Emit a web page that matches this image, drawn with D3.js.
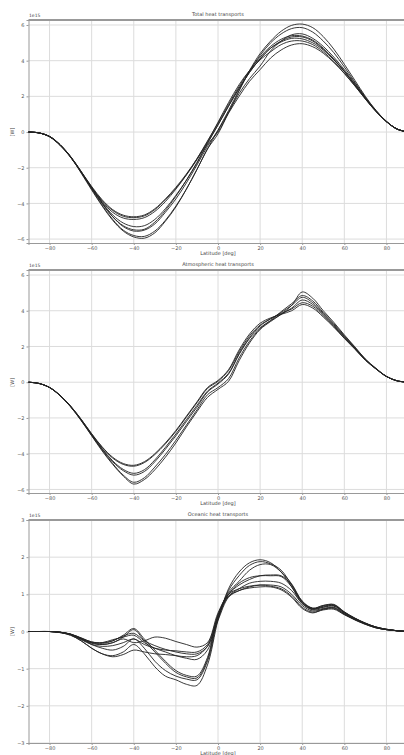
<!DOCTYPE html>
<html>
<head>
<meta charset="utf-8">
<script src="https://cdn.jsdelivr.net/npm/d3@7"></script>
<style>
  body { margin: 0; background: #fff; }
  text { font-family: "DejaVu Sans", sans-serif; fill: #444; }
</style>
</head>
<body>
<div id="chart"></div>
<script>
// latitudes every 5 degrees, south pole to north pole
var lats = [-90,-85,-80,-75,-70,-65,-60,-55,-50,-45,-40,-35,-30,-25,-20,-15,-10,-5,0,5,10,15,20,25,30,35,40,45,50,55,60,65,70,75,80,85,90];

var xTicks = [-80,-60,-40,-20,0,20,40,60,80];
var yTicksBig = [-6,-4,-2,0,2,4,6];
var yTicksSmall = [-3,-2,-1,0,1,2,3];
var titles = ["Total heat transports", "Atmospheric heat transports", "Oceanic heat transports"];

// total heat transport, one row per model run [1e15 W]
var totalHeat = [
  [0,-0.05,-0.25,-0.72,-1.4,-2.3,-3.25,-4.15,-4.95,-5.55,-5.88,-5.95,-5.65,-5.0,-4.2,-3.2,-2.1,-0.95, -0.1,1.1,2.3,3.45,4.4,5.1,5.65,5.98,6.05,5.85,5.35,4.65,3.8,2.9,2.0,1.22,0.6,0.17,0],
  [0,-0.05,-0.24,-0.7,-1.38,-2.25,-3.2,-4.1,-4.9,-5.5,-5.8,-5.85,-5.55,-4.95,-4.15,-3.2,-2.1,-0.95, 0.1,1.2,2.35,3.4,4.3,5.0,5.5,5.8,5.85,5.6,5.1,4.45,3.65,2.8,1.95,1.2,0.6,0.17,0],
  [0,-0.05,-0.25,-0.72,-1.38,-2.22,-3.15,-4.0,-4.75,-5.3,-5.55,-5.5,-5.15,-4.5,-3.75,-2.85,-1.85,-0.8, 0.1,1.1,2.15,3.0,3.7,4.55,5.1,5.45,5.5,5.25,4.8,4.2,3.5,2.75,1.92,1.2,0.6,0.17,0],
  [0,-0.05,-0.26,-0.72,-1.4,-2.25,-3.15,-4.0,-4.75,-5.25,-5.48,-5.45,-5.05,-4.4,-3.6,-2.7,-1.7,-0.65, 0.4,1.45,2.45,3.35,4.1,4.7,5.1,5.33,5.33,5.1,4.65,4.05,3.4,2.65,1.88,1.18,0.58,0.17,0],
  [0,-0.05,-0.27,-0.75,-1.42,-2.25,-3.1,-3.85,-4.4,-4.72,-4.8,-4.7,-4.35,-3.8,-3.15,-2.4,-1.55,-0.6, 0.4,1.45,2.45,3.35,4.1,4.7,5.05,5.25,5.22,5.0,4.6,4.05,3.4,2.65,1.88,1.18,0.58,0.17,0],
  [0,-0.05,-0.26,-0.74,-1.4,-2.22,-3.05,-3.8,-4.35,-4.66,-4.75,-4.65,-4.3,-3.75,-3.1,-2.35,-1.5,-0.55, 0.55,1.65,2.65,3.45,4.05,4.5,4.9,5.1,5.1,4.9,4.5,3.95,3.3,2.6,1.85,1.15,0.58,0.17,0],
  [0,-0.05,-0.25,-0.71,-1.37,-2.2,-3.1,-3.95,-4.65,-5.1,-5.3,-5.25,-4.9,-4.3,-3.55,-2.7,-1.75,-0.7, 0.0,1.05,2.0,2.85,3.5,4.15,4.6,4.88,4.95,4.78,4.42,3.9,3.28,2.58,1.85,1.15,0.58,0.17,0],
  [0,-0.05,-0.25,-0.72,-1.4,-2.24,-3.12,-3.9,-4.5,-4.82,-4.9,-4.8,-4.45,-3.9,-3.2,-2.4,-1.5,-0.5, 0.5,1.55,2.55,3.45,4.2,4.8,5.2,5.4,5.38,5.15,4.7,4.1,3.42,2.68,1.9,1.18,0.58,0.17,0]
];

// atmospheric heat transport [1e15 W]
var atmosHeat = [
  [0,-0.07,-0.3,-0.76,-1.38,-2.15,-3.0,-3.85,-4.6,-5.25,-5.7,-5.45,-4.9,-4.2,-3.4,-2.5,-1.65,-0.85, -0.4,0.05,1.2,2.2,2.95,3.4,3.8,4.3,5.05,4.7,4.0,3.35,2.65,1.98,1.3,0.78,0.33,0.08,0],
  [0,-0.07,-0.3,-0.75,-1.37,-2.13,-2.98,-3.8,-4.55,-5.2,-5.6,-5.35,-4.75,-4.05,-3.25,-2.4,-1.55,-0.7, -0.3,0.2,1.35,2.3,3.0,3.45,3.95,4.4,4.85,4.55,3.9,3.28,2.6,1.95,1.28,0.77,0.33,0.08,0],
  [0,-0.07,-0.3,-0.75,-1.36,-2.12,-2.95,-3.75,-4.45,-4.95,-5.2,-5.0,-4.45,-3.75,-3.0,-2.2,-1.4,-0.55, -0.1,0.45,1.6,2.5,3.15,3.55,3.9,4.3,4.75,4.45,3.85,3.22,2.56,1.92,1.26,0.76,0.32,0.08,0],
  [0,-0.07,-0.3,-0.74,-1.35,-2.1,-2.93,-3.72,-4.4,-4.88,-5.1,-4.9,-4.35,-3.65,-2.9,-2.1,-1.3,-0.5, -0.05,0.5,1.55,2.45,3.05,3.45,3.8,4.15,4.6,4.35,3.78,3.17,2.52,1.9,1.25,0.75,0.32,0.08,0],
  [0,-0.07,-0.29,-0.73,-1.34,-2.08,-2.9,-3.65,-4.25,-4.6,-4.7,-4.5,-4.05,-3.45,-2.75,-1.95,-1.15,-0.35, 0.05,0.65,1.7,2.6,3.2,3.55,3.85,4.1,4.45,4.25,3.72,3.12,2.48,1.87,1.24,0.75,0.32,0.08,0],
  [0,-0.07,-0.29,-0.73,-1.33,-2.07,-2.88,-3.62,-4.2,-4.55,-4.65,-4.45,-4.0,-3.4,-2.7,-1.9,-1.1,-0.3, 0.1,0.7,1.8,2.7,3.3,3.6,3.8,4.0,4.35,4.15,3.65,3.08,2.45,1.85,1.23,0.74,0.32,0.08,0]
];

// oceanic heat transport [1e15 W]
var oceanHeat = [
  [0,0,0,-0.03,-0.1,-0.25,-0.45,-0.6,-0.65,-0.55,-0.35,-0.6,-0.95,-1.2,-1.3,-1.42,-1.45,-0.9, 0.3,1.15,1.6,1.85,1.93,1.85,1.6,1.2,0.75,0.6,0.68,0.7,0.5,0.35,0.22,0.12,0.06,0.02,0],
  [0,0,0,-0.02,-0.08,-0.2,-0.35,-0.45,-0.5,-0.4,-0.2,-0.45,-0.8,-1.05,-1.2,-1.28,-1.3,-0.8, 0.35,1.1,1.5,1.78,1.88,1.82,1.65,1.25,0.8,0.62,0.7,0.72,0.52,0.36,0.22,0.12,0.06,0.02,0],
  [0,0,0,-0.02,-0.07,-0.18,-0.3,-0.35,-0.3,-0.15,0.05,-0.25,-0.55,-0.85,-1.1,-1.22,-1.25,-0.75, 0.4,1.0,1.3,1.45,1.5,1.5,1.48,1.2,0.78,0.6,0.65,0.68,0.5,0.34,0.21,0.11,0.05,0.02,0],
  [0,0,0,-0.02,-0.07,-0.17,-0.28,-0.3,-0.25,-0.1,0.08,-0.2,-0.5,-0.8,-1.05,-1.18,-1.2,-0.7, 0.45,1.0,1.25,1.4,1.5,1.52,1.5,1.25,0.8,0.62,0.66,0.7,0.52,0.35,0.22,0.12,0.06,0.02,0],
  [0,0,0,-0.02,-0.08,-0.2,-0.3,-0.3,-0.22,-0.15,-0.1,-0.3,-0.45,-0.55,-0.65,-0.72,-0.75,-0.5, 0.35,0.95,1.15,1.3,1.35,1.35,1.3,1.1,0.75,0.58,0.62,0.65,0.48,0.33,0.21,0.11,0.05,0.02,0],
  [0,0,0,-0.02,-0.07,-0.18,-0.28,-0.32,-0.25,-0.12,-0.05,-0.25,-0.38,-0.48,-0.55,-0.6,-0.6,-0.4, 0.4,0.95,1.1,1.2,1.25,1.25,1.2,1.0,0.7,0.55,0.6,0.62,0.46,0.32,0.2,0.1,0.05,0.02,0],
  [0,0,0,-0.02,-0.08,-0.2,-0.32,-0.35,-0.3,-0.2,-0.3,-0.25,-0.15,-0.18,-0.27,-0.35,-0.42,-0.3, 0.5,1.0,1.15,1.22,1.25,1.22,1.15,0.95,0.65,0.52,0.58,0.6,0.45,0.31,0.19,0.1,0.05,0.02,0],
  [0,0,0,-0.03,-0.1,-0.25,-0.45,-0.6,-0.68,-0.62,-0.5,-0.55,-0.6,-0.62,-0.65,-0.68,-0.65,-0.4, 0.3,0.92,1.1,1.17,1.2,1.2,1.12,0.92,0.62,0.5,0.6,0.64,0.47,0.32,0.2,0.1,0.05,0.02,0],
  [0,0,0,-0.02,-0.08,-0.22,-0.35,-0.4,-0.38,-0.3,-0.2,-0.35,-0.45,-0.5,-0.52,-0.55,-0.55,-0.35, 0.45,1.05,1.35,1.65,1.8,1.8,1.6,1.28,0.82,0.63,0.7,0.73,0.53,0.36,0.23,0.12,0.06,0.02,0]
];

var W = 404, H = 755;
var svg = d3.select("#chart").append("svg")
  .attr("width", W)
  .attr("height", H);

var x = d3.scaleLinear().domain([-90, 90]).range([28.5, 407.5]);

// three stacked panels: top/bottom pixel and y domain of each
var panels = [
  { series: totalHeat, top: 20, bottom: 243, dom: [-6.22, 6.28], ticks: yTicksBig },
  { series: atmosHeat, top: 270, bottom: 493, dom: [-6.2, 6.28], ticks: yTicksBig },
  { series: oceanHeat, top: 520, bottom: 743, dom: [-3, 3], ticks: yTicksSmall }
];

panels.forEach(function(p, i) {
  var y = d3.scaleLinear().domain(p.dom).range([p.bottom, p.top]);
  var g = svg.append("g");

  // grid
  g.selectAll(".vgrid").data(xTicks).enter().append("line")
    .attr("x1", function(d) { return x(d); }).attr("x2", function(d) { return x(d); })
    .attr("y1", p.top).attr("y2", p.bottom)
    .style("stroke", "#dcdcdc").style("stroke-width", 1);
  g.selectAll(".hgrid").data(p.ticks).enter().append("line")
    .attr("x1", x(-90)).attr("x2", W)
    .attr("y1", function(d) { return y(d); }).attr("y2", function(d) { return y(d); })
    .style("stroke", "#dcdcdc").style("stroke-width", 1);

  // axes
  var xa = g.append("g").attr("transform", "translate(0," + p.bottom + ")")
    .call(d3.axisBottom(x).tickValues(xTicks).tickFormat(d3.format("d")).tickSize(2).tickPadding(1));
  var ya = g.append("g").attr("transform", "translate(" + x(-90) + ",0)")
    .call(d3.axisLeft(y).tickValues(p.ticks).tickFormat(d3.format("d")).tickSize(2).tickPadding(2));
  [xa, ya].forEach(function(a) {
    a.selectAll("path").style("stroke", "#999");
    a.selectAll("line").style("stroke", "#999");
    a.selectAll("text").style("font-size", "5px").style("fill", "#555");
  });

  // top frame line
  g.append("line")
    .attr("x1", x(-90)).attr("x2", W)
    .attr("y1", p.top).attr("y2", p.top)
    .style("stroke", "#999").style("stroke-width", 2);

  // curves
  var line = d3.line()
    .x(function(d, j) { return x(lats[j]); })
    .y(function(d) { return y(d); })
    .curve(d3.curveCatmullRom.alpha(0.5));
  g.selectAll(".run").data(p.series).enter().append("path")
    .attr("d", line)
    .style("fill", "none")
    .style("stroke", "#222")
    .style("stroke-width", 0.9);

  // labels
  g.append("text").attr("x", x(0)).attr("y", p.top - 4)
    .attr("text-anchor", "middle").style("font-size", "5px").text(titles[i]);
  g.append("text").attr("x", 29).attr("y", p.top - 3)
    .style("font-size", "4.5px").text("1e15");
  g.append("text").attr("x", x(0)).attr("y", p.bottom + 12)
    .attr("text-anchor", "middle").style("font-size", "5px").text("Latitude [deg]");
  g.append("text")
    .attr("transform", "translate(14," + y(0) + ") rotate(-90)")
    .attr("text-anchor", "middle").style("font-size", "5px").text("[W]");
});
</script>
</body>
</html>
